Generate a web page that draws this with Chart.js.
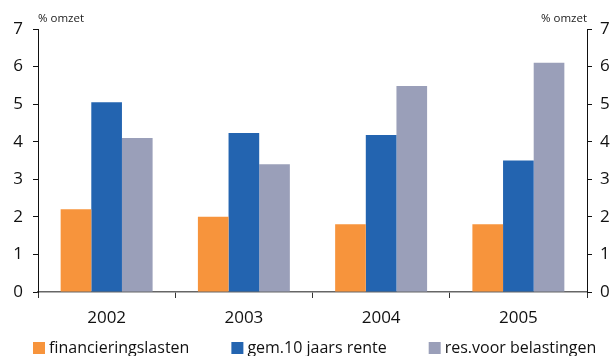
<!DOCTYPE html>
<html>
<head>
<meta charset="utf-8">
<style>
  html, body { margin: 0; padding: 0; background: #ffffff; }
  #wrap { width: 612px; height: 356px; position: relative; }
</style>
<script src="https://cdn.jsdelivr.net/npm/chart.js@4"></script>
</head>
<body>
<div id="wrap"><canvas id="chart" width="612" height="356"></canvas></div>
<script>
// Jaren op de x-as
const categories = ['2002', '2003', '2004', '2005'];
// Reeksen, in % van de omzet
const financieringslasten = [2.2, 2.0, 1.8, 1.8];
const gem10JaarsRente = [5.05, 4.23, 4.18, 3.5];
const resVoorBelastingen = [4.1, 3.4, 5.48, 6.1];
// Labels van de reeksen
const seriesLabels = ['financieringslasten', 'gem.10 jaars rente', 'res.voor belastingen'];
// Schaal van beide y-assen
const yMin = 0, yMax = 7, yStep = 1;
const axisUnit = '% omzet';

const FONT = "'Open Sans', 'DejaVu Sans', sans-serif";
const colors = ['#F7943C', '#2364B0', '#9A9FB9'];

// Eenheid boven beide y-assen
const unitLabels = {
  id: 'unitLabels',
  afterDraw(chart) {
    const { ctx, chartArea } = chart;
    ctx.save();
    ctx.font = "11.5px " + FONT;
    ctx.fillStyle = '#222';
    ctx.textBaseline = 'middle';
    ctx.textAlign = 'left';
    ctx.fillText(axisUnit, chartArea.left, 19);
    ctx.textAlign = 'right';
    ctx.fillText(axisUnit, chartArea.right, 19);
    ctx.restore();
  }
};

// Legenda onderaan: vierkantje + tekst, vaste tussenruimte
const bottomLegend = {
  id: 'bottomLegend',
  afterDraw(chart) {
    const { ctx } = chart;
    const box = 12, textGap = 4, itemGap = 42, y = 348;
    ctx.save();
    ctx.font = "16px " + FONT;
    ctx.textBaseline = 'middle';
    ctx.textAlign = 'left';
    let x = 33;
    chart.data.datasets.forEach(ds => {
      ctx.fillStyle = ds.backgroundColor;
      ctx.fillRect(x, y - box / 2, box, box);
      ctx.fillStyle = '#111';
      ctx.fillText(ds.label, x + box + textGap, y);
      x += box + textGap + ctx.measureText(ds.label).width + itemGap;
    });
    ctx.restore();
  }
};

const seriesData = [financieringslasten, gem10JaarsRente, resVoorBelastingen];

new Chart(document.getElementById('chart'), {
  type: 'bar',
  data: {
    labels: categories,
    datasets: seriesData.map((d, i) => ({
      label: seriesLabels[i],
      data: d,
      backgroundColor: colors[i],
      borderWidth: 0,
      yAxisID: 'y',
      categoryPercentage: 0.67,
      barPercentage: 1.0
    }))
  },
  options: {
    responsive: false,
    animation: false,
    devicePixelRatio: 1,
    layout: { padding: { top: 29, left: 0, right: 0, bottom: 0 } },
    plugins: {
      legend: { display: false },
      tooltip: { enabled: false }
    },
    scales: {
      x: {
        grid: {
          offset: true,
          drawOnChartArea: false,
          drawTicks: true,
          tickLength: 6,
          color: '#333',
          lineWidth: 1
        },
        border: { color: '#666', width: 1.5 },
        ticks: {
          font: { family: FONT, size: 17 },
          color: '#111',
          padding: 10
        },
        afterFit(scale) { scale.height = 64; }
      },
      y: {
        position: 'left',
        min: yMin, max: yMax,
        grid: { drawOnChartArea: false, tickLength: 5, color: '#111' },
        border: { color: '#111', width: 1 },
        ticks: {
          stepSize: yStep,
          font: { family: FONT, size: 17 },
          color: '#111',
          padding: 10
        },
        afterFit(scale) { scale.width = 38; }
      },
      y2: {
        position: 'right',
        min: yMin, max: yMax,
        grid: { drawOnChartArea: false, tickLength: 5, color: '#111' },
        border: { color: '#111', width: 1 },
        ticks: {
          stepSize: yStep,
          font: { family: FONT, size: 17 },
          color: '#111',
          padding: 8
        },
        afterFit(scale) { scale.width = 25; }
      }
    }
  },
  plugins: [unitLabels, bottomLegend]
});
</script>
</body>
</html>
